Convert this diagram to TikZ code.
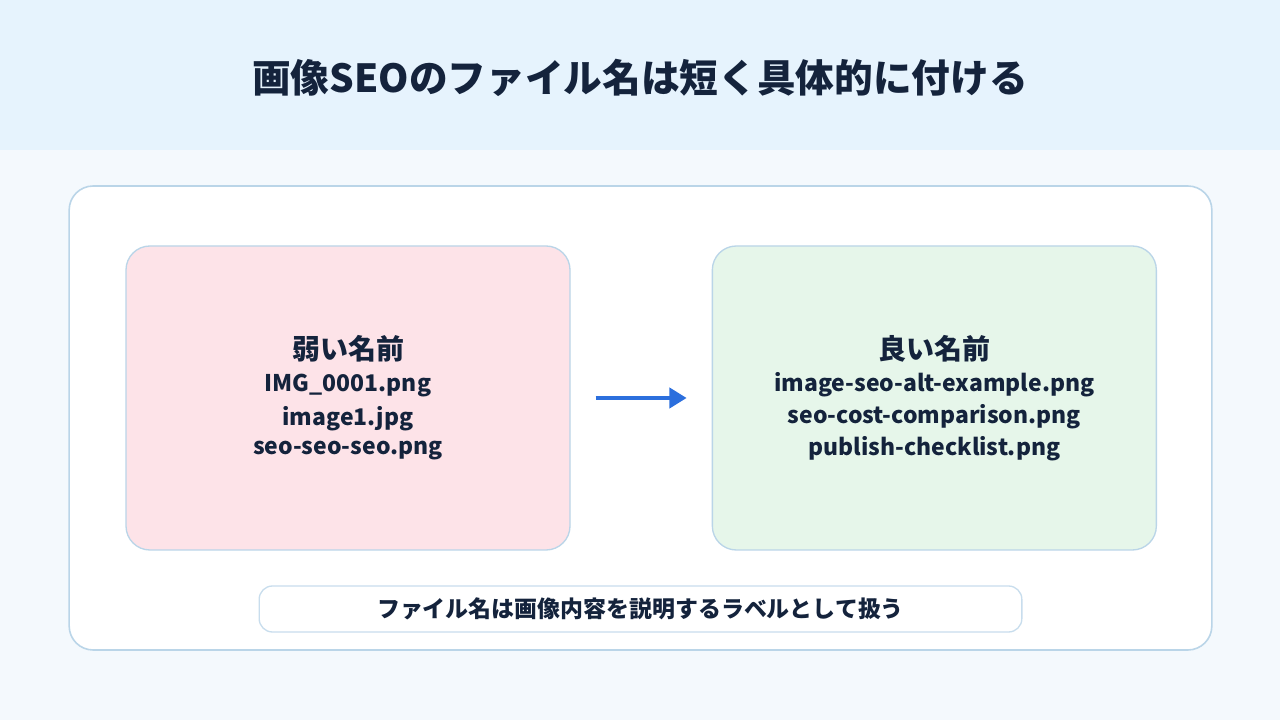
\documentclass[tikz,border=0pt]{standalone}
\usepackage{fontspec}
\setmainfont{Noto Sans CJK JP}
\usepackage{xcolor}
\usetikzlibrary{arrows.meta, positioning}

\definecolor{pagebg}{HTML}{F4F9FD}
\definecolor{headbg}{HTML}{E6F3FD}
\definecolor{edgeblue}{HTML}{BAD5E8}
\definecolor{weakpink}{HTML}{FDE3E8}
\definecolor{goodgreen}{HTML}{E6F6EA}
\definecolor{arrowblue}{HTML}{2C6FDD}
\definecolor{ink}{HTML}{14233C}

\begin{document}
\begin{tikzpicture}[
    x=0.75pt, y=0.75pt,
    panel/.style={draw=edgeblue, line width=1.2pt, rounded corners=18pt, fill=white, minimum width=857pt, minimum height=348pt},
    namebox/.style={draw=edgeblue, line width=1pt, rounded corners=18pt, minimum width=333pt, minimum height=228pt, align=center, font=\bfseries\fontsize{17.2}{24}\selectfont, text=ink},
    note/.style={draw=edgeblue!80, line width=1pt, rounded corners=10pt, fill=white, minimum width=572pt, minimum height=34.5pt, font=\bfseries\fontsize{17.2}{20}\selectfont, text=ink},
    arrow/.style={-{Triangle[length=13pt, width=15pt]}, line width=3.2pt, draw=arrowblue, shorten >=18.75pt, shorten <=18.75pt}
]

% Background
\useasboundingbox (0,0) rectangle (1280,720);
\fill[pagebg] (0,0) rectangle (1280,720);
\fill[headbg] (0,570) rectangle (1280,720);

% Nodes
\node[font=\bfseries\fontsize{29}{34}\selectfont, text=ink] (title) at (640,642) {画像SEOのファイル名は短く具体的に付ける};
\node[panel] (frame) at (640.5,302) {};
\node[namebox, fill=weakpink] (weak) at (348,322) {{\fontsize{21}{26}\selectfont 弱い名前}\\ IMG\_0001.png\\[1pt] image1.jpg\\[-2pt] seo-seo-seo.png};
\node[namebox, fill=goodgreen, right=105.75pt of weak] (good) {{\fontsize{21}{26}\selectfont 良い名前}\\ image-seo-alt-example.png\\ seo-cost-comparison.png\\ publish-checklist.png};
\node[note] (label) at (640.5,111) {ファイル名は画像内容を説明するラベルとして扱う};

% Connections
\draw[arrow] (weak) -- (good);

\end{tikzpicture}
\end{document}
